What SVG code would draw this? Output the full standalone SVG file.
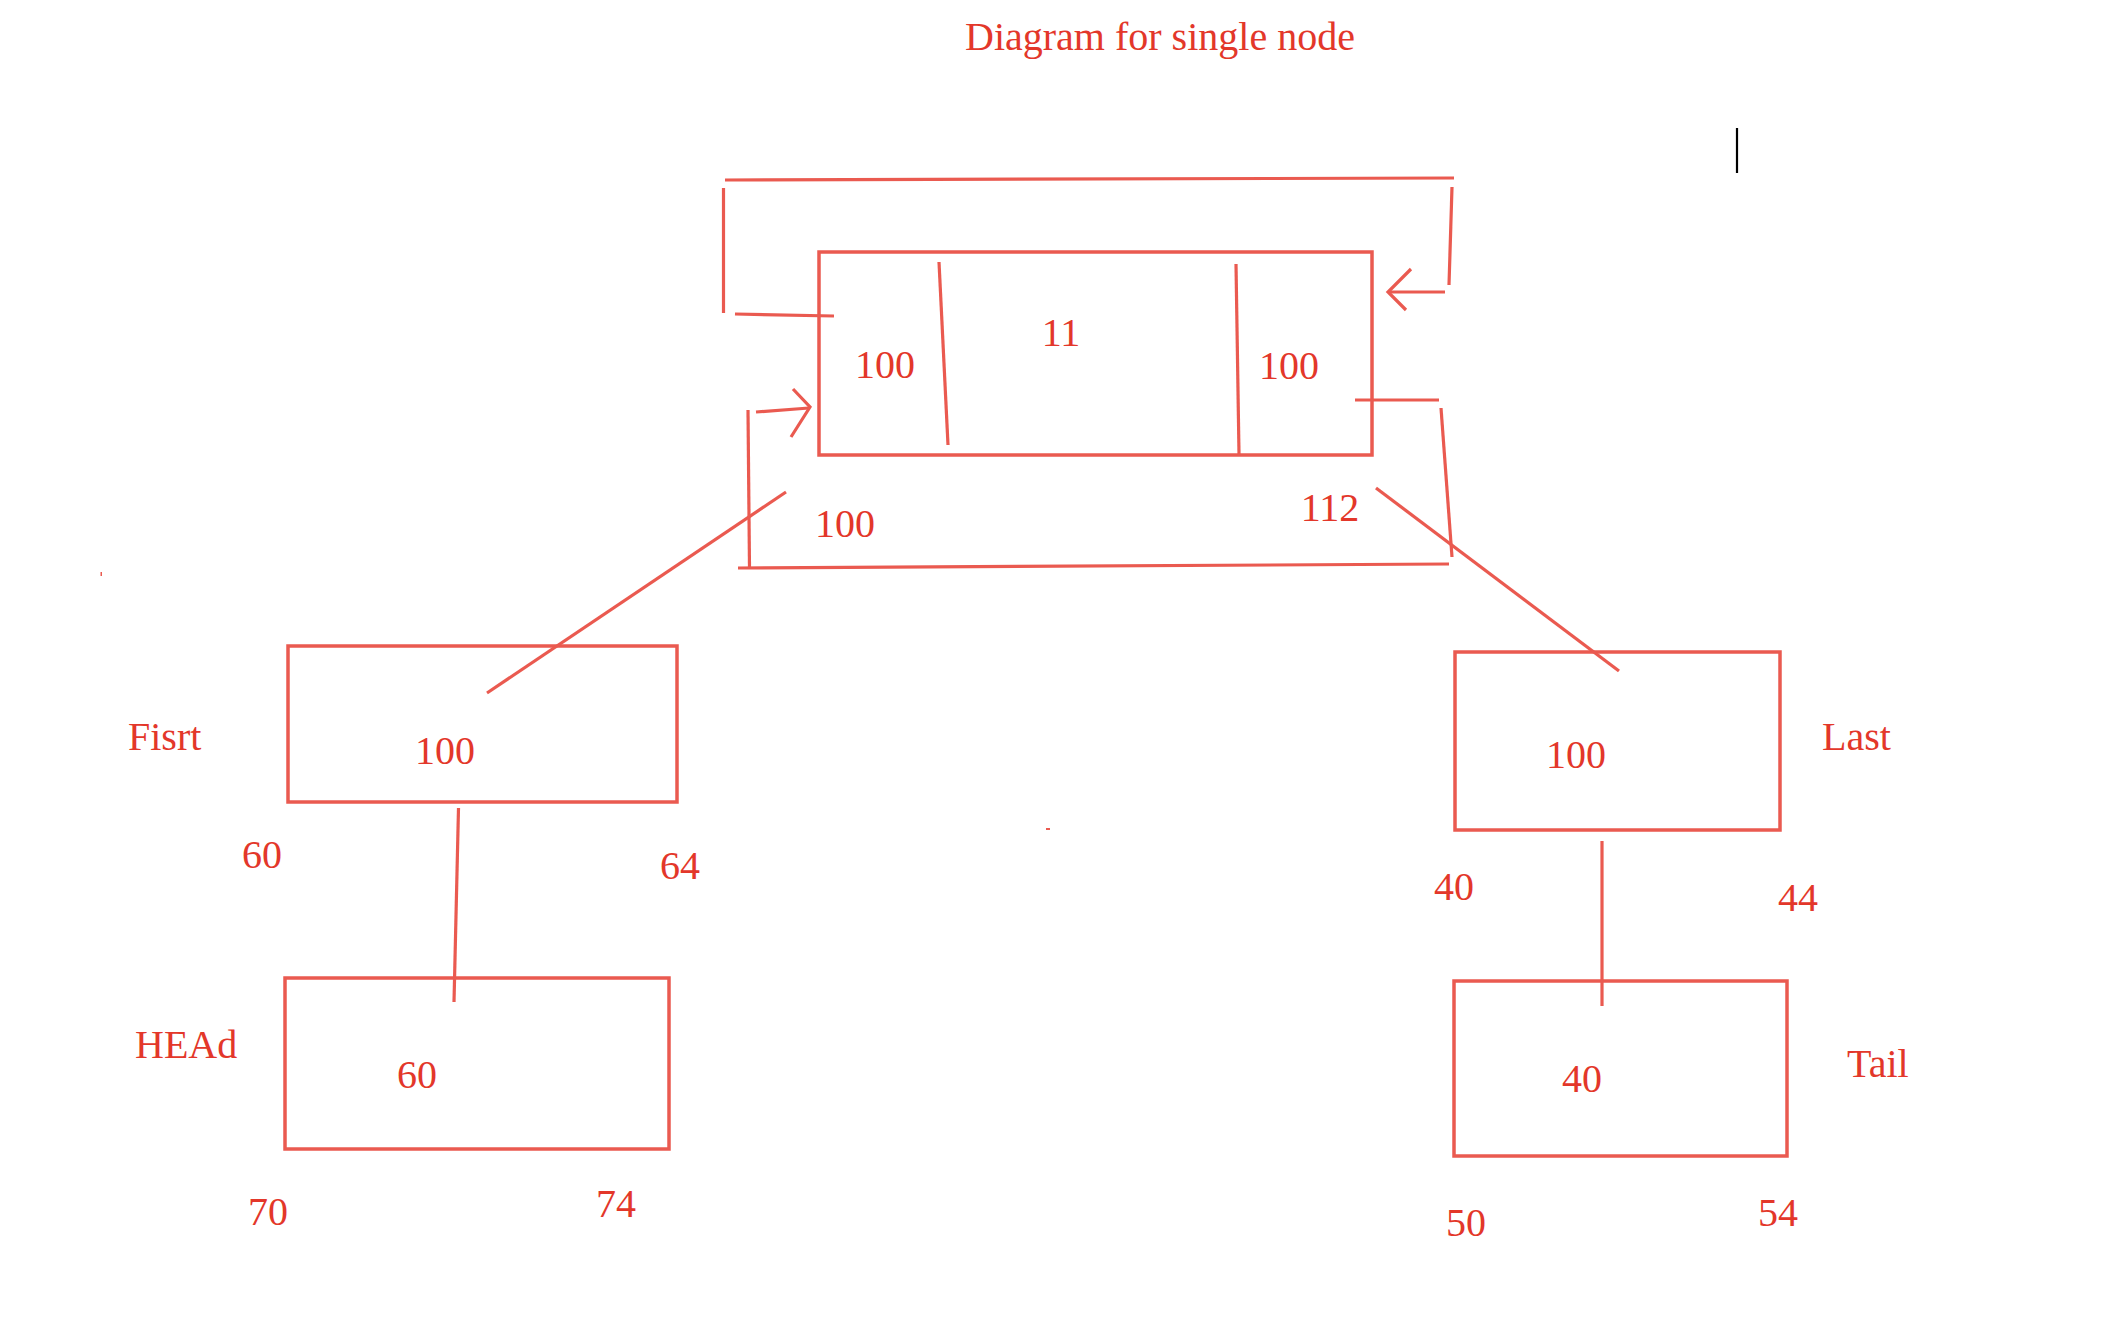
<svg xmlns="http://www.w3.org/2000/svg" width="2118" height="1334" viewBox="0 0 2118 1334">
<style>
.box{fill:none;stroke:#ea5a50;stroke-width:3.5}
.ln{fill:none;stroke:#ea5a50;stroke-width:3.2;stroke-linecap:butt;stroke-linejoin:miter}
text{font-family:"Liberation Serif","Times New Roman",serif;font-size:40px;fill:#e3372a}
.m{text-anchor:middle}
</style>
<rect width="2118" height="1334" fill="#ffffff"/>
<text id="title" x="965" y="50">Diagram for single node</text>
<line x1="1737" y1="128" x2="1737" y2="173" stroke="#000" stroke-width="2.2"/>
<g id="node-main">
<rect class="box" x="819" y="252" width="553" height="203"/>
<line class="ln" x1="939" y1="262" x2="948" y2="445"/>
<line class="ln" x1="1236" y1="264" x2="1239" y2="454"/>
<text class="m" x="885" y="378">100</text>
<text class="m" x="1061" y="346">11</text>
<text class="m" x="1289" y="379">100</text>
</g>
<text id="lbl-100" class="m" x="845" y="537">100</text>
<text id="lbl-112" class="m" x="1330" y="521">112</text>
<g id="node-first">
<rect class="box" x="288" y="646" width="389" height="156"/>
<text class="m" x="445" y="764">100</text>
<text x="128" y="750">Fisrt</text>
<text class="m" x="262" y="868">60</text>
<text class="m" x="680" y="879">64</text>
</g>
<g id="node-head">
<rect class="box" x="285" y="978" width="384" height="171"/>
<text class="m" x="417" y="1088">60</text>
<text x="135" y="1058">HEAd</text>
<text class="m" x="268" y="1225">70</text>
<text class="m" x="616" y="1217">74</text>
</g>
<g id="node-last">
<rect class="box" x="1455" y="652" width="325" height="178"/>
<text class="m" x="1576" y="768">100</text>
<text x="1822" y="750">Last</text>
<text class="m" x="1454" y="900">40</text>
<text class="m" x="1798" y="911">44</text>
</g>
<g id="node-tail">
<rect class="box" x="1454" y="981" width="333" height="175"/>
<text class="m" x="1582" y="1092">40</text>
<text x="1847" y="1077">Tail</text>
<text class="m" x="1466" y="1236">50</text>
<text class="m" x="1778" y="1226">54</text>
</g>
<g id="connectors">
<line class="ln" x1="725" y1="180" x2="1454" y2="178"/>
<line class="ln" x1="723.5" y1="188" x2="723.5" y2="313"/>
<line class="ln" x1="735" y1="314" x2="834" y2="316"/>
<line class="ln" x1="1452" y1="187" x2="1449" y2="285"/>
<line class="ln" x1="1445" y1="292" x2="1388" y2="292"/>
<polyline class="ln" points="1411,269 1388,292 1406,310"/>
<line class="ln" x1="1355" y1="400" x2="1439" y2="400"/>
<line class="ln" x1="1441" y1="408" x2="1452" y2="557"/>
<line class="ln" x1="738" y1="568" x2="1449" y2="564"/>
<line class="ln" x1="748" y1="410" x2="749.5" y2="568"/>
<line class="ln" x1="756" y1="412" x2="809" y2="408"/>
<polyline class="ln" points="793,389 810,407 791,437"/>
<line class="ln" x1="786" y1="492" x2="487" y2="693"/>
<line class="ln" x1="1376" y1="488" x2="1619" y2="671"/>
<line class="ln" x1="458.5" y1="808" x2="454" y2="1002"/>
<line class="ln" x1="1602" y1="841" x2="1602" y2="1006"/>
</g>
<rect x="100.5" y="572" width="1.5" height="4" fill="#ea5a50"/>
<rect x="1046" y="828" width="4" height="2" fill="#ea5a50"/>
</svg>
